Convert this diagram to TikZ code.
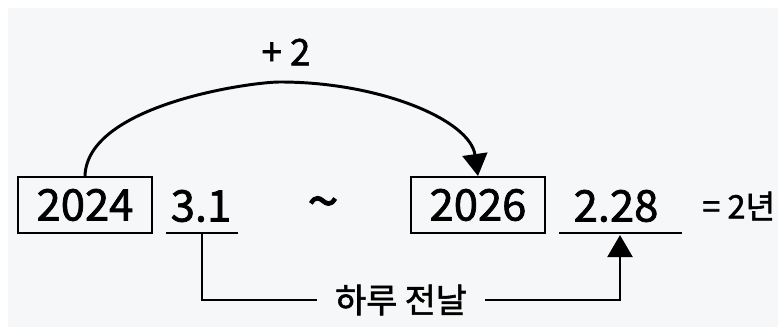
\documentclass[tikz,border=0pt]{standalone}
\usepackage{fontspec}
\setmainfont{Noto Sans CJK KR}
\newfontfamily\medfont{Noto Sans CJK KR}[FakeBold=1.6]
\usepackage{tikz}
\usetikzlibrary{arrows.meta}
\definecolor{bgpaper}{RGB}{245,247,248}
\tikzset{
  yearbox/.style={draw, line width=1.4pt, minimum width=3.35cm, minimum height=1.4cm,
    inner sep=0pt, font=\fontsize{31}{33}\medfont},
  datetext/.style={inner sep=0pt, font=\fontsize{31}{33}\medfont},
  bigtip/.style={-{Triangle[length=0.55cm, width=0.62cm]}},
  every node/.append style={text=black}
}

\begin{document}
\begin{tikzpicture}[x=0.025cm, y=-0.025cm, line width=2pt]
    \useasboundingbox (0,0) rectangle (778,327);
    \fill[white] (0,0) rectangle (778,327);
    \fill[bgpaper] (8,8) rectangle (778,327);

    % years and dates
    \node[yearbox] (start) at (85,205) {2024};
    \node[datetext] (startdate) at (201,206) {3.1};
    \node[datetext, font=\fontsize{40}{40}\medfont] (tilde) at (323,209) {\textasciitilde};
    \node[yearbox] (end) at (478,205) {2026};
    \node[datetext] (enddate) at (616,206) {2.28};
    \node[inner sep=0pt, anchor=west, font=\fontsize{23}{26}\medfont] (span) at (701,206) {= 2년};
    \node[inner sep=0pt, font=\fontsize{26}{28}\medfont] (plus) at (286,52) {+ 2};
    \node[inner sep=0pt, font=\fontsize{24}{28}\medfont] (gap) at (401,300) {하루 전날};

    % underlines
    \coordinate (u1a) at (166,233);
    \coordinate (u1b) at (238,233);
    \coordinate (u2a) at (559,233);
    \coordinate (u2b) at (682,233);
    \draw[line width=1.9pt] (u1a) -- (u1b);
    \draw[line width=1.9pt] (u2a) -- (u2b);

    % +2 arc
    \draw[bigtip, line width=2.1pt] (start.north) .. controls (87,105) and (250,82) .. (280,82)
        .. controls (380,82) and (470,120) .. (end.north);

    % day-before bracket
    \coordinate (b1) at (202,233);
    \coordinate (b2) at (620,235);
    \draw[line width=2.1pt] (b1) |- ([xshift=-12]gap.west);
    \draw[bigtip, line width=2.1pt] ([xshift=12]gap.east) -| (b2);
\end{tikzpicture}
\end{document}
